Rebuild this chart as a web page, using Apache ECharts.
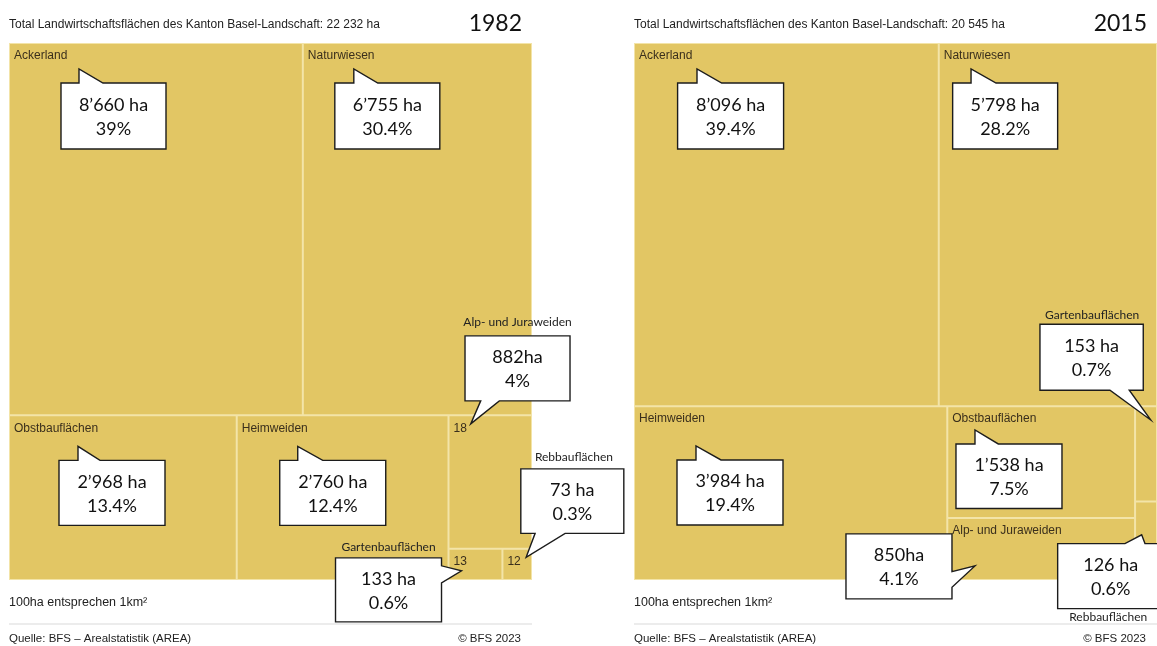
<!DOCTYPE html>
<html>
<head>
<meta charset="utf-8">
<script src="https://cdn.jsdelivr.net/npm/echarts@6/dist/echarts.min.js"></script>
<style>
html,body{margin:0;padding:0;background:#fff;}
#c{width:1157px;height:646px;}
</style>
</head>
<body>
<div id="c"></div>
<script>
// ---------------- DATA ----------------
const categories = ['Ackerland','Naturwiesen','Obstbauflächen','Heimweiden','Alp- und Juraweiden','Gartenbauflächen','Rebbauflächen'];
const years = ['1982','2015'];
const totals = ['22 232 ha','20 545 ha'];
const values1982 = [8660, 6755, 2968, 2760, 882, 133, 73];
const values2015 = [8096, 5798, 1538, 3984, 850, 153, 126];
const areaText1982 = ['8’660 ha','6’755 ha','2’968 ha','2’760 ha','882ha','133 ha','73 ha'];
const areaText2015 = ['8’096 ha','5’798 ha','1’538 ha','3’984 ha','850ha','153 ha','126 ha'];
const share1982 = ['39%','30.4%','13.4%','12.4%','4%','0.6%','0.3%'];
const share2015 = ['39.4%','28.2%','7.5%','19.4%','4.1%','0.7%','0.6%'];
const tileLabels1982 = ['Ackerland','Naturwiesen','Obstbauflächen','Heimweiden','18','13','12'];
const tileLabels2015 = ['Ackerland','Naturwiesen','Obstbauflächen','Heimweiden','Alp- und Juraweiden','',''];
// nesting of the categories (indices) used by the treemap
const groups1982 = [[0,1],[2,3,[4,[5,6]]]];
const groups2015 = [[0,1],[3,[2,4],[5,6]]];
const footNote = '100ha entsprechen 1km²';
const source = 'Quelle: BFS – Arealstatistik (AREA)';
const copyright = '© BFS 2023';

// ---------------- CALLOUT PLACEMENT (relative to the tile's top-left corner) ----------------
const callouts1982 = [
  {i:0, box:[52,40,105,66], edge:'top', tail:[[70,40],[70,26],[94,40]]},
  {i:1, box:[32,40,105,66], edge:'top', tail:[[51,40],[51,26],[75,40]]},
  {i:2, box:[50,45,106,65], edge:'top', tail:[[69,45],[69,31],[91,45]]},
  {i:3, box:[43,45,106,65], edge:'top', tail:[[61,45],[61,31],[86,45]]},
  {i:4, box:[16.5,-79.5,105,65], edge:'bottom', tail:[[50.8,-14.5],[22.2,8.5],[32.2,-14.5]], caption:[69,-93]},
  {i:5, box:[-113,9,106,64], edge:'right', tail:[[-7,17],[13,22],[-7,34]], caption:[-60,-2]},
  {i:6, box:[18.4,-80,103,64.5], edge:'bottom', tail:[[62.7,-15.5],[23.7,8.5],[32.7,-15.5]], caption:[71.5,-92]}
];
const callouts2015 = [
  {i:0, box:[43.6,40,106,66], edge:'top', tail:[[63,40],[63,26],[87.7,40]]},
  {i:1, box:[13.9,40,105,66], edge:'top', tail:[[32.3,40],[32.3,26],[57.3,40]]},
  {i:2, box:[8.7,37.8,106,64.5], edge:'top', tail:[[27.7,37.8],[27.7,23.8],[51,37.8]]},
  {i:3, box:[43,53.8,106,65], edge:'top', tail:[[62,53.8],[62,39.8],[87,53.8]]},
  {i:4, box:[-101.3,15.8,106,65], edge:'right', tail:[[4.7,53.5],[27.7,47.8],[4.7,69.1]]},
  {i:5, box:[-95.1,-81.9,103.3,66], edge:'bottom', tail:[[-5.8,-15.9],[15.6,13.8],[-25.1,-15.9]], caption:[-43,-91.2]},
  {i:6, box:[-77.4,42.1,106,65], edge:'top', tail:[[-10.1,42.1],[6.6,33.3],[9.9,42.1]], caption:[-26.8,115.5]}
];

// ---------------- CHART ----------------
const TILE = '#E2C664', TILE_LINE = '#F3E4A8';
const TREE_TOP = 43, TREE_W = 523, TREE_H = 537;
const panels = [
  {left:9, year:years[0], total:totals[0], values:values1982, labels:tileLabels1982, groups:groups1982, areaText:areaText1982, share:share1982, callouts:callouts1982},
  {left:634, year:years[1], total:totals[1], values:values2015, labels:tileLabels2015, groups:groups2015, areaText:areaText2015, share:share2015, callouts:callouts2015}
];

function buildNodes(group, p, prefix) {
  return group.map(function (g, k) {
    if (Array.isArray(g)) {
      return {name: prefix + '-' + k, children: buildNodes(g, p, prefix + '-' + k)};
    }
    return {name: categories[g], value: p.values[g], tileLabel: p.labels[g], itemStyle: {borderWidth: 1, borderColor: TILE_LINE}};
  });
}

const chart = echarts.init(document.getElementById('c'), null, {renderer: 'canvas', width: 1157, height: 646});

const baseGraphics = [];
panels.forEach(function (p) {
  baseGraphics.push({type:'text', x:p.left, y:25, z:50, style:{text:'Total Landwirtschaftsflächen des Kanton Basel-Landschaft: ' + p.total, fontFamily:'Liberation Sans, Arial', fontSize:12, fill:'#222', align:'left', verticalAlign:'middle'}});
  baseGraphics.push({type:'text', x:p.left + 513, y:24, z:50, style:{text:p.year, fontFamily:'Lato', fontSize:23, fill:'#111', align:'right', verticalAlign:'middle'}});
  baseGraphics.push({type:'text', x:p.left, y:603, z:50, style:{text:footNote, fontFamily:'Liberation Sans, Arial', fontSize:12.5, fill:'#222', align:'left', verticalAlign:'middle'}});
  baseGraphics.push({type:'line', z:1, shape:{x1:p.left, y1:624, x2:p.left + TREE_W, y2:624}, style:{stroke:'#ececec', lineWidth:2}});
  baseGraphics.push({type:'text', x:p.left, y:639, z:50, style:{text:source, fontFamily:'Liberation Sans, Arial', fontSize:11.5, fill:'#222', align:'left', verticalAlign:'middle'}});
  baseGraphics.push({type:'text', x:p.left + 512, y:639, z:50, style:{text:copyright, fontFamily:'Liberation Sans, Arial', fontSize:11.5, fill:'#222', align:'right', verticalAlign:'middle'}});
});

chart.setOption({
  animation: false,
  color: [TILE],
  backgroundColor: '#fff',
  graphic: baseGraphics,
  series: panels.map(function (p, si) {
    return {
      type: 'treemap',
      left: p.left, top: TREE_TOP, width: TREE_W, height: TREE_H,
      roam: false, nodeClick: false,
      breadcrumb: {show: false},
      squareRatio: 1.468,
      sort: 'desc',
      itemStyle: {color: TILE, borderWidth: 0, gapWidth: 0, borderColor: TILE_LINE},
      label: {
        show: true, position: [4, 6], padding: 0, overflow: 'none',
        fontFamily: 'Liberation Sans, Arial', fontSize: 12, color: '#3a2f1c',
        formatter: function (params) { return (params.data && params.data.tileLabel) || ''; }
      },
      upperLabel: {show: false},
      emphasis: {disabled: true},
      data: buildNodes(p.groups, p, p.year)
    };
  })
});

// locate tiles from the treemap's own layout
function tileRect(seriesIndex, name, fallbackLeft) {
  const sm = chart.getModel().getSeriesByIndex(seriesIndex);
  const tree = sm.getData().tree;
  let target = null;
  tree.root.eachNode(function (n) { if (n.name === name) target = n; });
  const info = sm.layoutInfo || {x: fallbackLeft, y: TREE_TOP};
  let x = info.x, y = info.y, n = target;
  while (n) {
    const l = n.getLayout();
    if (l) { x += (l.x || 0); y += (l.y || 0); }
    n = n.parentNode;
  }
  const L = target.getLayout();
  return {x: x, y: y, w: L.width, h: L.height};
}

function bubblePoints(c, ox, oy) {
  const bx = ox + c.box[0], by = oy + c.box[1], bw = c.box[2], bh = c.box[3];
  const t = c.tail.map(function (q) { return [ox + q[0], oy + q[1]]; });
  const pts = [[bx, by]];
  if (c.edge === 'top') pts.push.apply(pts, t);
  pts.push([bx + bw, by]);
  if (c.edge === 'right') pts.push.apply(pts, t);
  pts.push([bx + bw, by + bh]);
  if (c.edge === 'bottom') pts.push.apply(pts, t);
  pts.push([bx, by + bh]);
  if (c.edge === 'left') pts.push.apply(pts, t);
  return pts;
}

const calloutGraphics = [];
panels.forEach(function (p, si) {
  p.callouts.forEach(function (c) {
    const r = tileRect(si, categories[c.i], p.left);
    calloutGraphics.push({type:'polygon', z:100, shape:{points: bubblePoints(c, r.x, r.y)}, style:{fill:'#ffffff', stroke:'#1c1c1c', lineWidth:1.4}});
    calloutGraphics.push({type:'text', z:101, x: r.x + c.box[0] + c.box[2] / 2, y: r.y + c.box[1] + c.box[3] / 2 + 1,
      style:{text: p.areaText[c.i] + '\n' + p.share[c.i], fontFamily:'Lato', fontSize:18, lineHeight:24, fill:'#111', align:'center', verticalAlign:'middle'}});
    if (c.caption) {
      calloutGraphics.push({type:'text', z:101, x: r.x + c.caption[0], y: r.y + c.caption[1],
        style:{text: categories[c.i], fontFamily:'Lato', fontSize:12, fill:'#222', align:'center', verticalAlign:'middle'}});
    }
  });
});

chart.setOption({graphic: baseGraphics.concat(calloutGraphics)}, {replaceMerge: ['graphic']});
</script>
</body>
</html>
